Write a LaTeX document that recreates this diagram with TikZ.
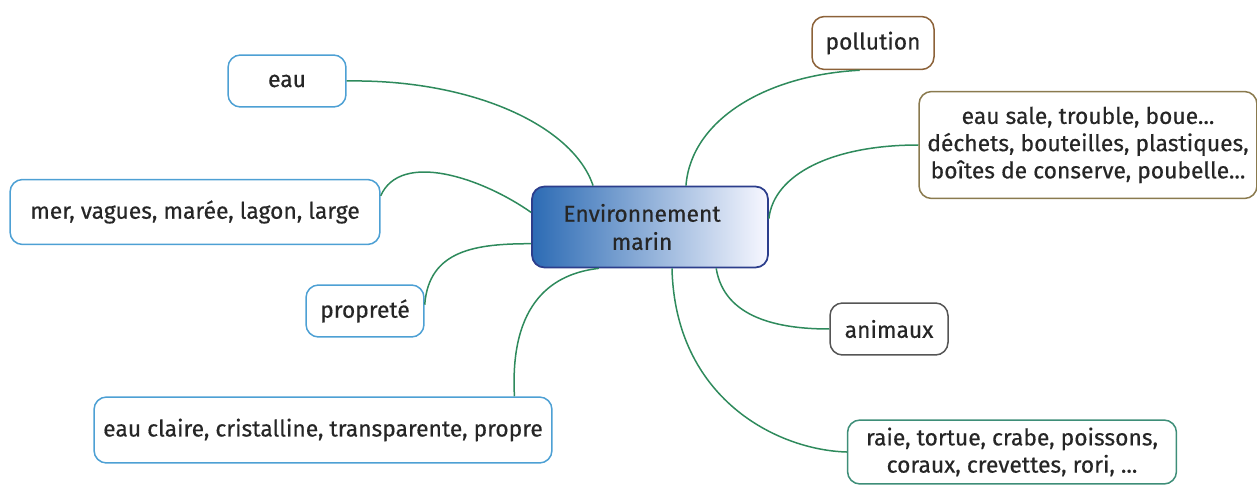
\documentclass[tikz,border=0pt]{standalone}
\usepackage{fontspec}
\setmainfont{Fira Sans}[UprightFeatures={FakeBold=0.4}]
\definecolor{branchgreen}{HTML}{2E8A5C}
\definecolor{leafblue}{HTML}{4DA0D4}
\definecolor{leafbrown}{HTML}{8C6239}
\definecolor{leafolive}{HTML}{8A7A4E}
\definecolor{leafgray}{HTML}{555555}
\definecolor{leafteal}{HTML}{3E8E78}
\definecolor{coreblue}{HTML}{2C6BB4}
\definecolor{coremid}{HTML}{7DB0DE}
\definecolor{coreedge}{HTML}{2C3E8C}
\tikzset{
	leaf/.style={draw=#1, line width=0.3mm, rounded corners=2.5mm, fill=white, align=center,
		inner sep=0pt, text=black!85, font=\fontsize{13}{15.5}\selectfont},
	core/.style={draw=coreedge, line width=0.35mm, rounded corners=2.5mm, left color=coreblue,
		middle color=coremid, right color=blue!3, align=center, inner sep=0pt, text=black!85,
		font=\fontsize{13}{16}\selectfont},
	branch/.style={draw=branchgreen, line width=0.3mm}
}

\begin{document}
\begin{tikzpicture}[x=0.02cm, y=-0.02cm]
	\useasboundingbox (0,0) rectangle (1257,486);

	\node[core, minimum width=4.72cm, minimum height=1.62cm] (envmarin) at (650,227) {Environnement\hspace*{0.32cm}\\marin\hspace*{0.32cm}};

	\node[leaf=leafblue, minimum width=2.36cm, minimum height=1.04cm] (eau) at (287,81) {eau};
	\node[leaf=leafblue, minimum width=7.4cm, minimum height=1.3cm] (mer) at (195,212) {mer, vagues, marée, lagon, large};
	\node[leaf=leafblue, minimum width=2.36cm, minimum height=1.04cm] (proprete) at (365,311) {propreté};
	\node[leaf=leafblue, minimum width=9.16cm, minimum height=1.32cm] (claire) at (323,430) {eau claire, cristalline, transparente, propre};

	\node[leaf=leafbrown, minimum width=2.44cm, minimum height=1.06cm] (pollution) at (873,43) {pollution};
	\node[leaf=leafolive, minimum width=6.76cm, minimum height=2.14cm] (sale) at (1088,145) {eau sale, trouble, boue...\\déchets, bouteilles, plastiques,\\boîtes de conserve, poubelle...};
	\node[leaf=leafgray, minimum width=2.36cm, minimum height=1.04cm] (animaux) at (889,329) {animaux};
	\node[leaf=leafteal, minimum width=6.58cm, minimum height=1.28cm] (raie) at (1012,452) {raie, tortue, crabe, poissons,\\coraux, crevettes, rori, ...};

	\draw[branch] (eau.east) .. controls +(125,-2) and +(-20,-60) .. (envmarin.144);
	\draw[branch] (mer.5) .. controls +(20,-45) and +(-50,-35) .. (envmarin.173);
	\draw[branch] (proprete.6) .. controls +(4,-55) and +(-55,0) .. (envmarin.188);
	\draw[branch] (claire.10) .. controls +(-5,-95) and +(-45,5) .. (envmarin.219);

	\draw[branch] (envmarin.49) .. controls +(5,-65) and +(-95,5) .. (pollution.244);
	\draw[branch] (envmarin.4) .. controls +(5,-45) and +(-85,0) .. (sale.west);
	\draw[branch] (envmarin.328) .. controls +(8,50) and +(-50,0) .. (animaux.west);
	\draw[branch] (envmarin.298) .. controls +(3,130) and +(-70,-2) .. (raie.west);
\end{tikzpicture}
\end{document}
